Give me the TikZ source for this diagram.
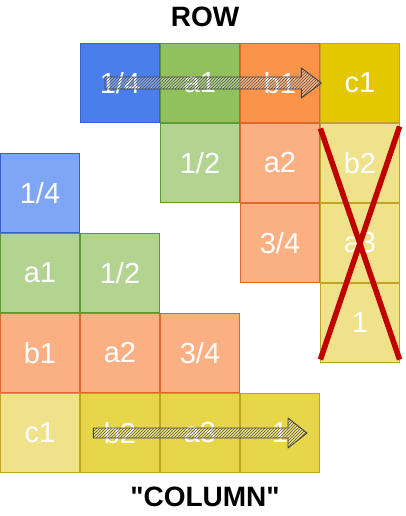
\documentclass[tikz,border=0pt]{standalone}
\usepackage{fontspec}
\setmainfont{Liberation Sans}[Ligatures=TeXOff]
\usetikzlibrary{matrix,patterns}

\definecolor{blueA}{HTML}{4A7FEB}
\definecolor{blueB}{HTML}{7EA6F4}
\definecolor{blueL}{HTML}{3A5FC8}
\definecolor{greenA}{HTML}{91C05C}
\definecolor{greenB}{HTML}{B2D490}
\definecolor{greenL}{HTML}{5E9A34}
\definecolor{orangeA}{HTML}{F9944A}
\definecolor{orangeB}{HTML}{FBB083}
\definecolor{orangeL}{HTML}{E0692A}
\definecolor{yellowA}{HTML}{E3C800}
\definecolor{yellowB}{HTML}{F0E28A}
\definecolor{yellowC}{HTML}{E8D64A}
\definecolor{yellowL}{HTML}{C0A522}
\definecolor{crossred}{HTML}{C00000}

\begin{document}
\begin{tikzpicture}[
		x=1pt,y=-1pt,
		plain/.style={
			draw=none,
			fill=none,
		},
		bA/.style={fill=blueA,draw=blueL},
		bB/.style={fill=blueB,draw=blueL},
		gA/.style={fill=greenA,draw=greenL},
		gB/.style={fill=greenB,draw=greenL},
		oA/.style={fill=orangeA,draw=orangeL},
		oB/.style={fill=orangeB,draw=orangeL},
		yA/.style={fill=yellowA,draw=yellowL},
		yB/.style={fill=yellowB,draw=yellowL},
		yC/.style={fill=yellowC,draw=yellowL},
		grid/.style={
			matrix of nodes,
			nodes={
				rectangle,
				anchor=center,
				minimum size=79.2pt,
				inner sep=0,
				outer sep=0,
				line width=0.8pt,
				text=white,
				font=\fontsize{29}{31}\selectfont
			},
			nodes in empty cells,
			column sep=0,
			row sep=0,
			inner sep=0,
			outer sep=0
		},
		title/.style={font=\bfseries\fontsize{28}{30}\selectfont},
		fatarrow/.style={
			draw=black!75,
			line width=0.9pt,
			line join=round,
			preaction={fill=white,fill opacity=0.25},
			pattern=north east lines,
			pattern color=black!65
		},
		cross/.style={draw=crossred,line width=5.5pt}
		]
		\useasboundingbox (0,0) rectangle (406,516);
		% row layout
		\matrix[grid,anchor=north west] (row) at (80,43)
		{
			|[bA]| 1/4 & |[gA]| a1 & |[oA]| b1 & |[yA]| c1 \\
			|[plain]| & |[gB]| 1/2 & |[oB]| a2 & |[yB]| b2 \\
			|[plain]| & |[plain]| & |[oB]| 3/4 & |[yB]| a3 \\
			|[plain]| & |[plain]| & |[plain]| & |[yB]| 1 \\
		};
		% column layout
		\matrix[grid,anchor=north west] (col) at (0,153)
		{
			|[bB]| 1/4 & |[plain]| & |[plain]| & |[plain]| \\
			|[gB]| a1 & |[gB]| 1/2 & |[plain]| & |[plain]| \\
			|[oB]| b1 & |[oB]| a2 & |[oB]| 3/4 & |[plain]| \\
			|[yB]| c1 & |[yC]| b2 & |[yC]| a3 & |[yC]| 1 \\
		};
		% titles
		\node[title] (rowtitle) at (205,17) {ROW};
		\node[title] (coltitle) at (205,497) {"COLUMN"};
		% row arrow
		\coordinate (rowtail) at ([xshift=-15pt]row-1-1.center);
		\coordinate (rowtip) at ([xshift=1pt]row-1-4.west);
		\draw[fatarrow] ([yshift=6pt]rowtail) -- ([xshift=-20pt,yshift=6pt]rowtip)
			-- ([xshift=-20pt,yshift=15pt]rowtip) -- (rowtip)
			-- ([xshift=-20pt,yshift=-15pt]rowtip) -- ([xshift=-20pt,yshift=-6pt]rowtip)
			-- ([yshift=-6pt]rowtail) -- cycle;
		% column arrow
		\coordinate (coltail) at ([xshift=13pt]col-4-2.west);
		\coordinate (coltip) at ([xshift=27pt]col-4-4.center);
		\draw[fatarrow] ([yshift=5pt]coltail) -- ([xshift=-19pt,yshift=5pt]coltip)
			-- ([xshift=-19pt,yshift=15pt]coltip) -- (coltip)
			-- ([xshift=-19pt,yshift=-15pt]coltip) -- ([xshift=-19pt,yshift=-5pt]coltip)
			-- ([yshift=-5pt]coltail) -- cycle;
		% cross
		\coordinate (xa) at ([yshift=-5pt]row-2-4.north west);
		\coordinate (xb) at ([yshift=3pt]row-4-4.south east);
		\coordinate (xc) at ([yshift=-3pt]row-2-4.north east);
		\coordinate (xd) at ([yshift=3pt]row-4-4.south west);
		\draw[cross] (xa) -- (xb);
		\draw[cross] (xc) -- (xd);
\end{tikzpicture}
\end{document}
